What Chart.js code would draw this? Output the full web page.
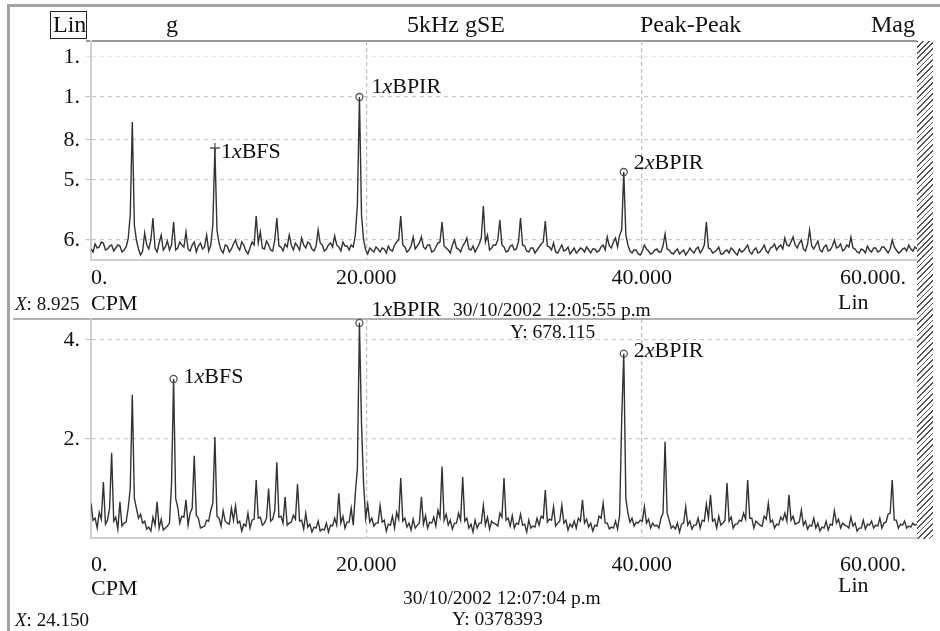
<!DOCTYPE html>
<html>
<head>
<meta charset="utf-8">
<script src="https://cdn.jsdelivr.net/npm/chart.js@4.4.1/dist/chart.umd.min.js"></script>
<style>
  html, body { margin: 0; padding: 0; background: #fff; }
  body { width: 940px; height: 631px; position: relative; overflow: hidden; font-family: "Liberation Serif", "DejaVu Serif", serif; color: #111; }
  canvas { position: absolute; left: 0; }
  .t { position: absolute; white-space: nowrap; line-height: 1; }
  .ln { position: absolute; }
</style>
</head>
<body>
<div class="ln" style="left:7px;top:4px;width:940px;height:640px;border-left:3px solid #a3a3a3;border-top:3px solid #a3a3a3;"></div>
<div class="ln" style="left:86px;top:40px;width:831px;height:2px;background:#9a9a9a;"></div>
<div class="ln" style="left:13px;top:318px;width:904px;height:2px;background:#b0b0b0;"></div>
<div class="ln" style="left:917px;top:41px;width:16px;height:498px;background:repeating-linear-gradient(135deg,#555 0 1.2px,#fff 1.2px 4px);"></div>

<canvas id="topChart" width="940" height="300" style="top:0"></canvas>
<canvas id="bottomChart" width="940" height="336" style="top:295px"></canvas>

<!-- header -->
<div class="ln" style="left:50px;top:11px;width:35px;height:26px;border:1.5px solid #222;"></div>
<div class="t" style="left:53px;top:12px;font-size:24px;">Lin</div>
<div class="t" style="left:166px;top:12px;font-size:24px;">g</div>
<div class="t" style="left:407px;top:12px;font-size:24px;">5kHz gSE</div>
<div class="t" style="left:640px;top:12px;font-size:24px;">Peak-Peak</div>
<div class="t" style="right:25px;top:12px;font-size:24px;">Mag</div>

<!-- top panel footer -->
<div class="t" style="left:15px;top:294px;font-size:19px;"><i>X</i>: 8.925</div>
<div class="t" style="left:91px;top:292px;font-size:22px;">CPM</div>
<div class="t" style="left:838px;top:291px;font-size:22px;">Lin</div>
<div class="t" style="left:453px;top:300px;font-size:19.5px;">30/10/2002 12:05:55 p.m</div>
<div class="t" style="left:510px;top:322px;font-size:19.5px;">Y: 678.115</div>

<!-- bottom panel footer -->
<div class="t" style="left:91px;top:577px;font-size:22px;">CPM</div>
<div class="t" style="left:838px;top:574px;font-size:22px;">Lin</div>
<div class="t" style="left:403px;top:588px;font-size:19.5px;">30/10/2002 12:07:04 p.m</div>
<div class="t" style="left:452px;top:609px;font-size:19.5px;">Y: 0378393</div>
<div class="t" style="left:15px;top:610px;font-size:19px;"><i>X</i>: 24.150</div>

<script>
// spectrum bins are 150 CPM apart, 0 .. 60000
const binCpm = 150;

const xTickValues = [0, 20000, 40000, 60000];
const xTickLabels = ['0.', '20.000', '40.000', '60.000.\u2007'];

// top spectrum (gSE, Peak-Peak)
const topMag = [
  0.22,0.16,0.32,0.24,0.26,0.36,0.34,0.20,0.22,0.28,0.30,0.18,0.24,0.30,0.28,0.16,0.20,0.26,0.42,0.90,
  2.76,0.70,0.40,0.22,0.10,0.18,0.54,0.30,0.22,0.40,0.84,0.24,0.16,0.34,0.50,0.20,0.26,0.38,0.20,0.30,
  0.76,0.20,0.24,0.36,0.30,0.26,0.56,0.22,0.18,0.30,0.36,0.16,0.28,0.34,0.22,0.26,0.50,0.18,0.30,0.70,
  2.24,0.60,0.34,0.20,0.14,0.30,0.28,0.16,0.22,0.32,0.40,0.26,0.20,0.36,0.30,0.18,0.12,0.24,0.36,0.30,
  0.88,0.34,0.56,0.24,0.22,0.38,0.30,0.20,0.18,0.40,0.84,0.28,0.26,0.18,0.32,0.26,0.50,0.30,0.20,0.34,
  0.28,0.20,0.44,0.30,0.24,0.36,0.32,0.22,0.18,0.28,0.60,0.34,0.30,0.18,0.22,0.30,0.34,0.26,0.48,0.30,
  0.26,0.18,0.36,0.28,0.28,0.20,0.30,0.26,0.50,1.10,3.26,0.90,0.40,0.20,0.12,0.24,0.20,0.16,0.26,0.22,
  0.16,0.24,0.22,0.14,0.28,0.20,0.18,0.30,0.36,0.40,0.88,0.30,0.26,0.16,0.20,0.28,0.46,0.22,0.28,0.34,
  0.46,0.26,0.22,0.30,0.30,0.16,0.18,0.26,0.34,0.36,0.76,0.28,0.24,0.20,0.14,0.30,0.40,0.24,0.22,0.16,
  0.28,0.34,0.44,0.22,0.20,0.28,0.16,0.24,0.32,0.44,1.08,0.36,0.50,0.20,0.24,0.30,0.30,0.40,0.80,0.30,
  0.26,0.16,0.18,0.28,0.30,0.20,0.22,0.36,0.84,0.30,0.28,0.18,0.16,0.24,0.24,0.14,0.20,0.26,0.32,0.36,
  0.78,0.28,0.26,0.20,0.34,0.16,0.14,0.22,0.30,0.18,0.20,0.26,0.12,0.18,0.24,0.14,0.18,0.24,0.22,0.16,
  0.26,0.20,0.14,0.22,0.22,0.16,0.18,0.26,0.30,0.20,0.46,0.28,0.24,0.36,0.44,0.26,0.50,0.60,1.76,0.50,
  0.30,0.18,0.14,0.20,0.20,0.12,0.10,0.18,0.30,0.22,0.18,0.12,0.14,0.20,0.22,0.16,0.16,0.28,0.52,0.22,
  0.20,0.14,0.12,0.18,0.22,0.12,0.16,0.20,0.10,0.16,0.24,0.18,0.14,0.22,0.26,0.14,0.20,0.30,0.76,0.24,
  0.22,0.14,0.16,0.20,0.26,0.12,0.12,0.18,0.20,0.14,0.24,0.20,0.14,0.10,0.22,0.16,0.18,0.24,0.30,0.16,
  0.12,0.20,0.24,0.14,0.16,0.22,0.30,0.18,0.14,0.24,0.26,0.32,0.20,0.26,0.30,0.22,0.44,0.30,0.28,0.36,
  0.46,0.30,0.24,0.34,0.40,0.22,0.18,0.32,0.60,0.28,0.22,0.30,0.38,0.20,0.16,0.26,0.30,0.18,0.20,0.28,
  0.40,0.24,0.26,0.32,0.18,0.22,0.30,0.26,0.46,0.24,0.22,0.16,0.14,0.22,0.20,0.14,0.28,0.20,0.16,0.24,
  0.24,0.16,0.18,0.26,0.26,0.20,0.14,0.22,0.40,0.26,0.20,0.14,0.16,0.22,0.24,0.18,0.30,0.22,0.18,0.26,
  0.22
];
const topYTickValues = [0.4, 1.6, 2.4, 3.26, 4.06];
const topYTickLabels = ['6.', '5.', '8.', '1.', '1.'];
const topMarkBins = [60, 130, 258];
const topMarkText = ['1xBFS', '1xBPIR', '2xBPIR'];
const topMarkStyle = ['cross', 'circle', 'circle'];

// bottom spectrum
const bottomMag = [
  0.70,0.36,0.40,0.20,0.52,0.38,1.13,0.28,0.36,0.60,1.72,0.34,0.42,0.18,0.73,0.24,0.30,0.32,0.60,1.00,
  2.89,0.80,0.60,0.40,0.48,0.30,0.34,0.18,0.22,0.14,0.42,0.26,0.73,0.20,0.38,0.16,0.20,0.24,0.30,1.10,
  3.21,0.80,0.62,0.30,0.44,0.42,0.77,0.26,0.50,0.60,1.66,0.46,0.40,0.20,0.22,0.24,0.36,0.34,0.56,0.70,
  2.04,0.44,0.40,0.24,0.55,0.34,0.30,0.28,0.60,0.36,0.65,0.30,0.34,0.14,0.28,0.24,0.50,0.20,0.36,0.38,
  1.17,0.40,0.42,0.26,0.30,0.40,1.00,0.34,0.38,0.56,1.53,0.42,0.44,0.30,0.83,0.26,0.30,0.32,0.46,0.38,
  1.09,0.34,0.36,0.18,0.50,0.22,0.28,0.12,0.22,0.20,0.34,0.14,0.18,0.16,0.30,0.12,0.26,0.24,0.40,0.26,
  0.90,0.30,0.44,0.20,0.32,0.32,0.60,0.26,0.90,1.40,4.34,2.30,1.10,0.40,0.68,0.32,0.40,0.24,0.30,0.30,
  0.65,0.32,0.36,0.14,0.28,0.26,0.44,0.20,0.52,0.38,1.21,0.34,0.40,0.22,0.30,0.16,0.38,0.20,0.26,0.30,
  0.83,0.28,0.45,0.20,0.32,0.30,0.42,0.24,0.56,0.42,1.44,0.36,0.48,0.26,0.36,0.18,0.30,0.30,0.50,0.36,
  1.23,0.34,0.40,0.20,0.28,0.12,0.36,0.20,0.30,0.30,0.66,0.26,0.42,0.18,0.34,0.30,0.28,0.24,0.50,0.42,
  1.21,0.36,0.40,0.24,0.45,0.20,0.30,0.28,0.48,0.26,0.28,0.12,0.36,0.20,0.24,0.22,0.40,0.26,0.44,0.40,
  0.97,0.32,0.38,0.36,0.63,0.24,0.30,0.34,0.66,0.30,0.36,0.16,0.28,0.22,0.34,0.20,0.40,0.34,0.77,0.30,
  0.38,0.22,0.30,0.14,0.26,0.24,0.44,0.40,0.70,0.30,0.30,0.18,0.22,0.20,0.34,0.18,0.46,2.40,3.72,0.80,
  0.50,0.32,0.40,0.24,0.32,0.30,0.36,0.34,0.63,0.30,0.38,0.20,0.30,0.24,0.26,0.20,0.40,0.50,1.94,0.50,
  0.36,0.20,0.24,0.18,0.30,0.12,0.28,0.30,0.63,0.26,0.34,0.18,0.26,0.26,0.40,0.20,0.36,0.34,0.68,0.40,
  0.87,0.34,0.38,0.20,0.44,0.26,0.30,0.36,1.11,0.34,0.42,0.20,0.28,0.28,0.36,0.34,0.50,0.38,1.17,0.40,
  0.40,0.20,0.34,0.30,0.26,0.24,0.44,0.38,0.70,0.32,0.36,0.20,0.28,0.26,0.42,0.36,0.50,0.34,0.87,0.36,
  0.44,0.28,0.30,0.32,0.56,0.26,0.34,0.18,0.26,0.24,0.40,0.20,0.30,0.14,0.22,0.20,0.34,0.16,0.28,0.26,
  0.55,0.30,0.38,0.20,0.30,0.26,0.24,0.20,0.42,0.24,0.30,0.14,0.20,0.20,0.36,0.18,0.28,0.26,0.34,0.20,
  0.26,0.24,0.40,0.20,0.30,0.32,0.48,0.50,1.17,0.36,0.36,0.20,0.28,0.26,0.34,0.20,0.24,0.22,0.30,0.26,
  0.28
];
const bottomYTickValues = [2, 4];
const bottomYTickLabels = ['2.', '4.'];
const bottomMarkBins = [40, 130, 258];
const bottomMarkText = ['1xBFS', '1xBPIR', '2xBPIR'];
const bottomMarkStyle = ['circle', 'circle', 'circle'];

const FONT = '"Liberation Serif", "DejaVu Serif", serif';

// draws "1xBPIR" style labels next to the marked peaks, x in italic
const peakLabels = {
  id: 'peakLabels',
  afterDatasetsDraw(chart, args, opts) {
    const ctx = chart.ctx;
    const meta = chart.getDatasetMeta(1);
    ctx.save();
    ctx.fillStyle = '#111';
    ctx.textBaseline = 'middle';
    meta.data.forEach((pt, k) => {
      const txt = opts.text[k];
      let x = pt.x + opts.offsets[k][0];
      const y = pt.y + opts.offsets[k][1];
      const parts = [[txt[0], ''], [txt[1], 'italic '], [txt.slice(2), '']];
      parts.forEach(([s, st]) => {
        ctx.font = st + '22px ' + FONT;
        ctx.fillText(s, x, y);
        x += ctx.measureText(s).width;
      });
    });
    ctx.restore();
  }
};

function makeChart(id, mag, yMax, yTicks, yLabels, markBins, markText, markStyle, offsets, pad, xHeight, xPad, yGridColors) {
  return new Chart(document.getElementById(id), {
    type: 'line',
    data: {
      datasets: [{
        data: mag.map((v, i) => ({ x: i * binCpm, y: v })),
        borderColor: '#333',
        borderWidth: 1.4,
        pointRadius: 0,
        tension: 0
      }, {
        type: 'scatter',
        data: markBins.map(i => ({ x: i * binCpm, y: mag[i] })),
        pointStyle: markStyle,
        pointRadius: markStyle.map(s => s === 'cross' ? 5 : 3.5),
        borderColor: '#555',
        backgroundColor: '#fff',
        borderWidth: 1.3,
        clip: false
      }]
    },
    options: {
      responsive: false,
      animation: false,
      layout: { padding: pad },
      plugins: {
        legend: { display: false },
        tooltip: { enabled: false },
        peakLabels: { text: markText, offsets: offsets }
      },
      scales: {
        x: {
          type: 'linear',
          min: 0,
          max: 60000,
          afterBuildTicks: s => { s.ticks = xTickValues.map(v => ({ value: v })); },
          afterFit: s => { s.height = xHeight; },
          ticks: {
            callback: (v, i) => xTickLabels[i],
            align: 'inner',
            autoSkip: false,
            maxRotation: 0,
            padding: xPad,
            color: '#111',
            font: { family: FONT, size: 22 }
          },
          grid: {
            drawTicks: false,
            color: c => (c.tick && (c.tick.value === 20000 || c.tick.value === 40000)) ? '#bdbdbd' : 'rgba(0,0,0,0)',
            lineWidth: 1.2
          },
          border: { display: true, color: '#cfcfcf', width: 2, dash: [4, 3] }
        },
        y: {
          min: 0,
          max: yMax,
          afterBuildTicks: s => { s.ticks = yTicks.map(v => ({ value: v })); },
          afterFit: s => { s.width = 91; },
          ticks: {
            callback: (v, i) => yLabels[i],
            padding: 5,
            color: '#111',
            font: { family: FONT, size: 22 }
          },
          grid: {
            color: c => yGridColors[c.index] || '#c8c8c8',
            tickLength: 6,
            lineWidth: 1.2
          },
          border: { display: true, color: '#cfcfcf', width: 2, dash: [4, 4] }
        }
      }
    },
    plugins: [peakLabels]
  });
}

makeChart('topChart', topMag, 4.38, topYTickValues, topYTickLabels,
  topMarkBins, topMarkText, topMarkStyle,
  [[6, 4], [12, -10], [10, -9]],
  { left: 0, top: 41, right: 23, bottom: 0 }, 40, 5,
  ['#c8c8c8', '#c8c8c8', '#c8c8c8', '#c8c8c8', '#e6e6e6']);

makeChart('bottomChart', bottomMag, 4.42, bottomYTickValues, bottomYTickLabels,
  bottomMarkBins, bottomMarkText, bottomMarkStyle,
  [[10, -2], [12, -13], [10, -2]],
  { left: 0, top: 24, right: 23, bottom: 0 }, 93, 14,
  ['#c8c8c8', '#c8c8c8']);
</script>
</body>
</html>
